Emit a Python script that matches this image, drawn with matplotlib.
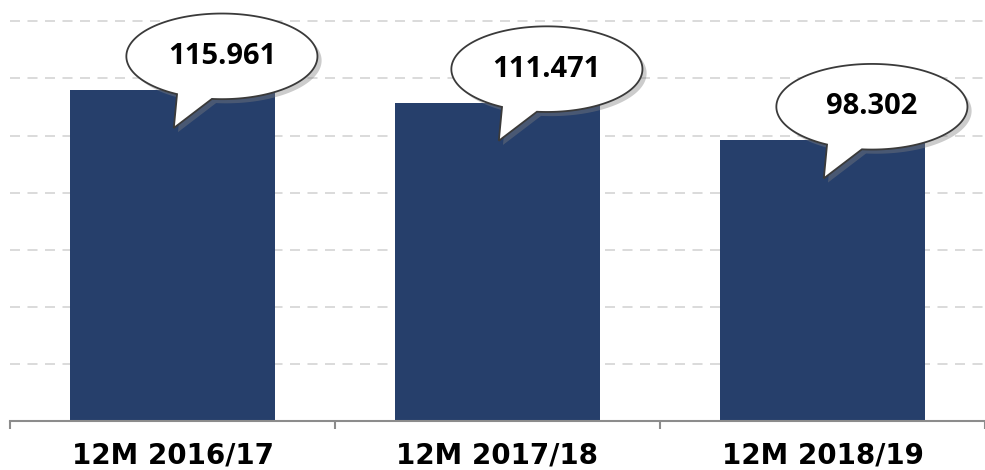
import matplotlib as mpl
import matplotlib.pyplot as plt
import matplotlib.patheffects as pe
from matplotlib.path import Path
from matplotlib.patches import PathPatch
import numpy as np

categories = ['12M 2016/17', '12M 2017/18', '12M 2018/19']
values = [115.961, 111.471, 98.302]
valueLabels = ['115.961', '111.471', '98.302']
gridValues = [20, 40, 60, 80, 100, 120, 140]

barColor = '#263f6b'


def bubble_path(cx, cy, a, b, tipX, tipY, t1, t2):
    # ellipse outline with a tail inserted between angles t1 and t2 (degrees)
    angles = np.radians(np.linspace(t2, t1 + 360, 200))
    xs = cx + a * np.cos(angles)
    ys = cy + b * np.sin(angles)
    verts = list(zip(xs, ys)) + [(tipX, tipY), (xs[0], ys[0])]
    codes = [Path.MOVETO] + [Path.LINETO] * (len(verts) - 2) + [Path.CLOSEPOLY]
    return Path(verts, codes)


#create figure
fig = plt.figure(figsize=(9.85, 4.7), dpi=100, facecolor='white')
ax = fig.add_axes([10 / 985, 49 / 470, 975 / 985, 421 / 470])
ax.set(xlim=(-0.5, 2.482), ylim=(0, 147.5))

#gridlines
for g in gridValues:
    ax.axhline(g, color='#d4d4d4', linewidth=1.2, dashes=(6, 4.5), zorder=0)

#bars
x = np.arange(len(categories))
ax.bar(x, values, width=0.63, color=barColor, zorder=2)

#speech bubbles
for i, v in enumerate(values):
    cx, cy = i + 0.152, v + 11.8
    path = bubble_path(cx, cy, 0.294, 15.0, i + 0.004, v - 13.3, 242, 264)
    patch = PathPatch(path, facecolor='white', edgecolor='#3a3a3a', linewidth=1.3,
                      zorder=4, clip_on=False,
                      path_effects=[pe.SimplePatchShadow(offset=(3, -3), shadow_rgbFace='#808080', alpha=0.4),
                                    pe.Normal()])
    ax.add_patch(patch)
    ax.text(cx, cy, valueLabels[i], ha='center', va='center', fontsize=21,
            fontweight='bold', family='Open Sans', color='black', zorder=5)

#axis configuration
for side in ['left', 'top', 'right']:
    ax.spines[side].set_visible(False)
ax.spines['bottom'].set_color('#8c8c8c')
ax.spines['bottom'].set_linewidth(1.5)
ax.set_yticks([])
ax.set_xticks([-0.5, 0.5, 1.5, 2.5])
ax.set_xticklabels([])
ax.tick_params(axis='x', which='major', length=6, width=1.5, color='#8c8c8c', direction='out')
ax.set_xticks(x, minor=True)
ax.set_xticklabels(categories, minor=True, fontsize=20, fontweight='bold', family='DejaVu Sans')
ax.tick_params(axis='x', which='minor', length=0, pad=15)

fig.savefig('out.png', dpi=100, facecolor='white')
